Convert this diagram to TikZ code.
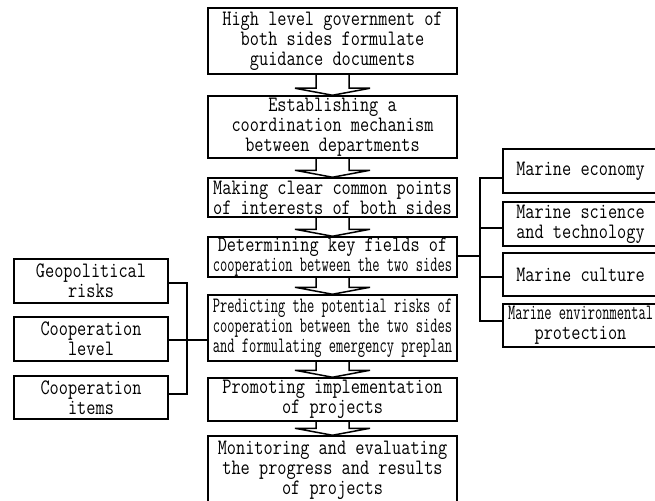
\documentclass[tikz,border=0pt]{standalone}
\usepackage{fontspec}
\usepackage{graphicx}
\setmainfont{Latin Modern Mono}[FakeStretch=0.81]
\newcommand\cz[1]{\scalebox{0.79}[1]{#1}}
\newcommand\flowarr[2]{%
  \draw[arrline] ([xshift=-16.5pt]#1.south) -- ([xshift=-16.5pt,yshift=7pt]#2.north)
    -- ([xshift=-37.5pt,yshift=7pt]#2.north) -- (#2.north)
    -- ([xshift=37.5pt,yshift=7pt]#2.north) -- ([xshift=16.5pt,yshift=7pt]#2.north)
    -- ([xshift=16.5pt]#1.south);}
\begin{document}
\begin{tikzpicture}[x=1pt,y=-1pt,
  box/.style={draw, line width=1.5pt, align=center, inner sep=0pt,
    font=\fontsize{22}{20}\selectfont},
  mainbox/.style={box, minimum width=249pt},
  sidebox/.style={box, minimum width=154pt},
  rightbox/.style={box, minimum width=155pt},
  arrline/.style={line width=1.5pt, line join=miter},
  conn/.style={line width=1.5pt}]
\useasboundingbox (0,0) rectangle (655,500);
\clip (0,0) rectangle (655,500);
% main column
\node[mainbox, minimum height=66pt] (b1) at (332.5,41) {High level government of\\both sides formulate\\guidance documents};
\node[mainbox, minimum height=62pt] (b2) at (332.5,127) {Establishing a\\coordination mechanism\\between departments};
\node[mainbox, minimum height=39pt] (b3) at (332.5,197.5) {Making clear common points\\of interests of both sides};
\node[mainbox, minimum height=40pt] (b4) at (332.5,257) {Determining key fields of\\\cz{cooperation between the two sides}};
\node[mainbox, minimum height=66pt] (b5) at (332.5,328) {\cz{Predicting the potential risks of}\\\cz{cooperation between the two sides}\\\cz{and formulating emergency preplan}};
\node[mainbox, minimum height=43pt] (b6) at (332.5,399.5) {Promoting implementation\\of projects};
\node[mainbox, minimum height=68pt] (b7) at (332.5,470) {Monitoring and evaluating\\the progress and results\\of projects};
\flowarr{b1}{b2}
\flowarr{b2}{b3}
\flowarr{b3}{b4}
\flowarr{b4}{b5}
\flowarr{b5}{b6}
\flowarr{b6}{b7}
% left column
\node[sidebox, minimum height=44pt] (geo) at (91,281) {Geopolitical\\risks};
\node[sidebox, minimum height=44pt] (level) at (91,339) {Cooperation\\level};
\node[sidebox, minimum height=43pt] (items) at (91,397.5) {Cooperation\\items};
\coordinate (lt) at (187,283);
\coordinate (lm) at (187,340);
\coordinate (lb) at (187,394);
\draw[conn] (geo.east |- lt) -- (lt) -- (lb) -- (items.east |- lb);
\draw[conn] (level.east |- lm) -- (lm) -- (b5.west |- lm);
% right column
\node[rightbox, minimum height=44pt] (econ) at (580.5,171) {Marine economy};
\node[rightbox, minimum height=44pt] (sci) at (580.5,224) {Marine science\\and technology};
\node[rightbox, minimum height=43pt] (cult) at (580.5,274.5) {Marine culture};
\node[rightbox, minimum height=43pt] (env) at (580.5,325.5) {\cz{Marine environmental}\\protection};
\coordinate (rt) at (480,178);
\coordinate (rs) at (480,228);
\coordinate (rm) at (480,256);
\coordinate (rc) at (480,277);
\coordinate (rb) at (480,321);
\draw[conn] (econ.west |- rt) -- (rt) -- (rb) -- (env.west |- rb);
\draw[conn] (rs) -- (sci.west |- rs);
\draw[conn] (rc) -- (cult.west |- rc);
\draw[conn] (b4.east |- rm) -- (rm);
\end{tikzpicture}
\end{document}
